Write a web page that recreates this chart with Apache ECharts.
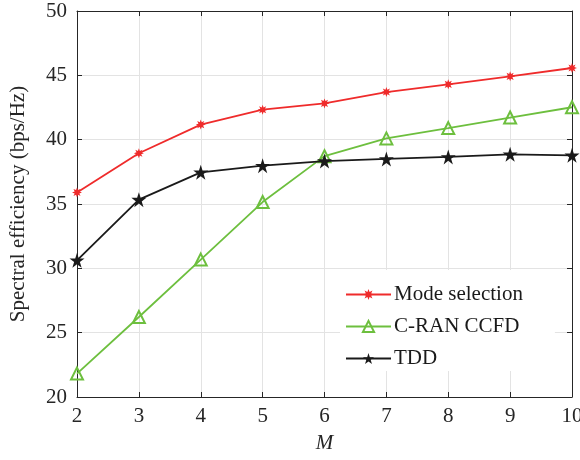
<!DOCTYPE html>
<html>
<head>
<meta charset="utf-8">
<script src="https://cdn.jsdelivr.net/npm/echarts@6/dist/echarts.min.js"></script>
<style>
  html, body { margin: 0; padding: 0; background: #fff; }
  #main { width: 580px; height: 460px; }
</style>
</head>
<body>
<div id="main"></div>
<script>
var mValues = [2, 3, 4, 5, 6, 7, 8, 9, 10];
var modeSelection = [35.9, 38.94, 41.17, 42.33, 42.82, 43.7, 44.3, 44.92, 45.57];
var cranCcfd = [21.82, 26.22, 30.68, 35.15, 38.72, 40.1, 40.9, 41.72, 42.52];
var tdd = [30.62, 35.34, 37.46, 37.98, 38.34, 38.5, 38.66, 38.86, 38.78];

function pairs(ys) {
  return ys.map(function (y, i) { return [mValues[i], y]; });
}

var serif = 'Liberation Serif';
var axisColor = '#262626';
var fs = 21;
var star5 = 'path://M50,0 L61.2,34.5 L97.6,34.5 L68.2,55.9 L79.4,90.5 L50,69.1 L20.6,90.5 L31.8,55.9 L2.4,34.5 L38.8,34.5 Z';
var star8 = 'path://M100,50 L73.1,59.6 L85.4,85.4 L59.6,73.1 L50,100 L40.4,73.1 L14.6,85.4 L26.9,59.6 L0,50 L26.9,40.4 L14.6,14.6 L40.4,26.9 L50,0 L59.6,26.9 L85.4,14.6 L73.1,40.4 Z';

var chart = echarts.init(document.getElementById('main'));

var hiddenAxisBase = {
  axisLine: { show: true, lineStyle: { color: axisColor, width: 1 } },
  axisTick: { show: true, inside: true, length: 5, lineStyle: { color: axisColor } },
  axisLabel: { show: false },
  splitLine: { show: false }
};

var option = {
  animation: false,
  backgroundColor: '#fff',
  grid: { left: 77, right: 8, top: 11, bottom: 63, outerBoundsMode: 'none', containLabel: false },
  xAxis: [{
    type: 'value', min: 2, max: 10, interval: 1,
    name: 'M', nameLocation: 'middle', nameGap: 36,
    nameTextStyle: { fontFamily: serif, fontSize: fs, fontStyle: 'italic', color: axisColor },
    axisLine: { lineStyle: { color: axisColor } },
    axisTick: { inside: true, length: 5, lineStyle: { color: axisColor } },
    axisLabel: { fontFamily: serif, fontSize: fs, color: axisColor, margin: 9 },
    splitLine: { show: true, lineStyle: { color: '#e3e3e3', width: 1 } }
  }, Object.assign({ type: 'value', position: 'top', min: 2, max: 10, interval: 1 }, hiddenAxisBase)],
  yAxis: [{
    type: 'value', min: 20, max: 50, interval: 5,
    name: 'Spectral efficiency (bps/Hz)', nameLocation: 'middle', nameGap: 48,
    nameTextStyle: { fontFamily: serif, fontSize: fs, color: axisColor },
    axisLine: { show: true, lineStyle: { color: axisColor } },
    axisTick: { show: true, inside: true, length: 5, lineStyle: { color: axisColor } },
    axisLabel: { fontFamily: serif, fontSize: fs, color: axisColor, margin: 10 },
    splitLine: { show: true, lineStyle: { color: '#e3e3e3', width: 1 } }
  }, Object.assign({ type: 'value', position: 'right', min: 20, max: 50, interval: 5 }, hiddenAxisBase)],
  legend: {
    orient: 'vertical',
    left: 340, top: 270,
    width: 215,
    backgroundColor: '#fff',
    padding: [14, 32, 2, 5],
    itemWidth: 45, itemHeight: 14, itemGap: 11,
    textStyle: { fontFamily: serif, fontSize: fs, color: '#1a1a1a', padding: [0, 0, 0, -2] },
    data: ['Mode selection', 'C-RAN CCFD', 'TDD']
  },
  series: [{
    name: 'Mode selection', type: 'line', data: pairs(modeSelection),
    symbol: star8, symbolSize: 10,
    lineStyle: { color: '#ef2b2b', width: 1.8 },
    itemStyle: { color: '#ef2b2b' },
    z: 3
  }, {
    name: 'C-RAN CCFD', type: 'line', data: pairs(cranCcfd),
    symbol: 'triangle', symbolSize: 12,
    lineStyle: { color: '#6dbf3e', width: 1.8 },
    itemStyle: { color: 'rgba(255,255,255,0)', borderColor: '#6dbf3e', borderWidth: 2 },
    z: 2
  }, {
    name: 'TDD', type: 'line', data: pairs(tdd),
    symbol: star5, symbolSize: 15,
    lineStyle: { color: '#1a1a1a', width: 1.8 },
    itemStyle: { color: '#1a1a1a' },
    z: 4
  }]
};

chart.setOption(option);
</script>
</body>
</html>
